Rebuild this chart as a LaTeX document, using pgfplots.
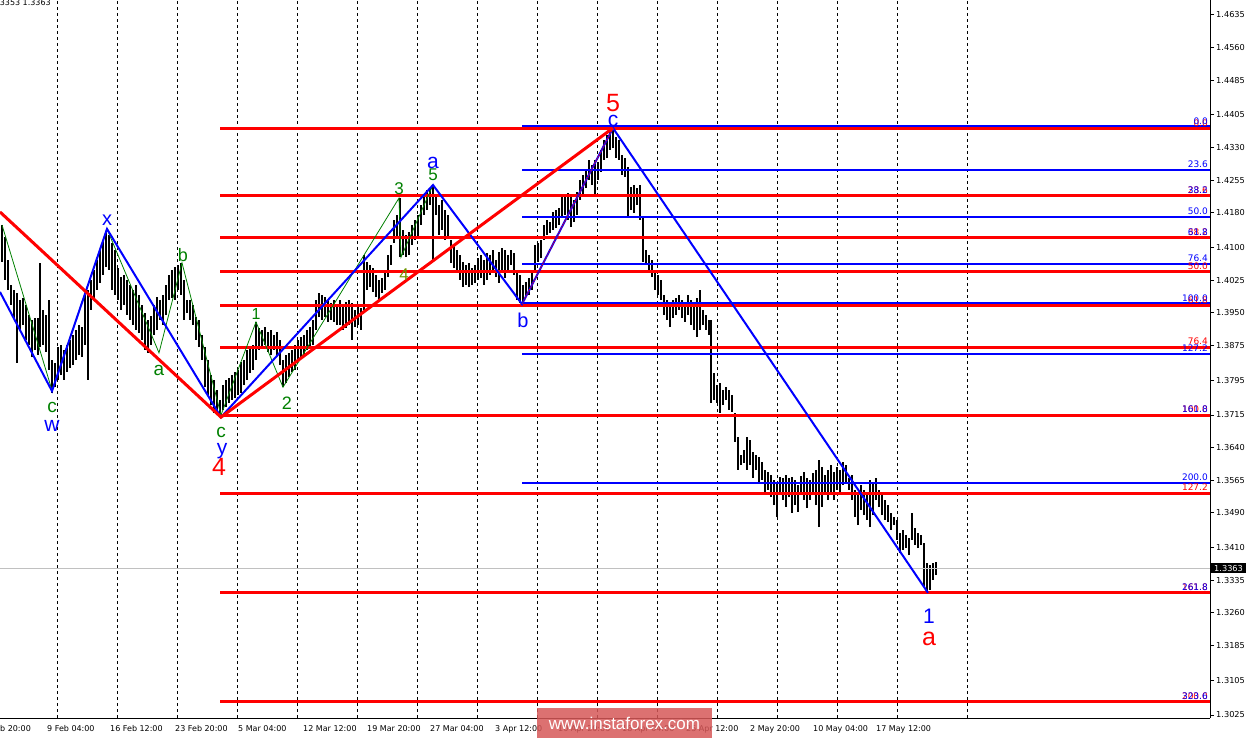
\documentclass[border=0pt]{standalone}
\usepackage{pgfplots}
\pgfplotsset{compat=1.18}
\usepackage{pgfplotstable}
\usepackage{fontspec}
\setmainfont{DejaVu Sans}
\newfontfamily\arial{Liberation Sans}
\definecolor{wgreen}{RGB}{0,128,0}
\definecolor{wgreen4}{RGB}{110,150,0}
\definecolor{wblue}{RGB}{0,0,255}
\definecolor{wred}{RGB}{255,0,0}
\definecolor{wmark}{RGB}{214,88,88}
\definecolor{cur}{RGB}{192,192,192}

\pgfplotstableread{
x hi lo
2 1.4152 1.4067
5 1.4124 1.4026
8 1.4072 1.4003
11 1.4014 1.3968
14 1.4003 1.3938
17 1.3996 1.3835
20 1.3980 1.3911
23 1.3984 1.3922
26 1.3968 1.3888
29 1.3945 1.3876
32 1.3934 1.3848
35 1.3938 1.3865
38 1.3938 1.3853
40 1.4065 1.3871
43 1.3957 1.3876
46 1.3945 1.3860
49 1.3980 1.3819
52 1.3842 1.3766
55 1.3835 1.3779
58 1.3871 1.3796
61 1.3876 1.3807
64 1.3865 1.3796
67 1.3876 1.3814
70 1.3888 1.3823
73 1.3899 1.3830
76 1.3911 1.3842
79 1.3922 1.3853
82 1.3917 1.3848
85 1.3991 1.3876
88 1.4003 1.3796
91 1.4026 1.3957
94 1.4049 1.3980
97 1.4072 1.4003
100 1.4095 1.4019
103 1.4118 1.4037
106 1.4136 1.4055
109 1.4129 1.4049
112 1.4111 1.4003
115 1.4095 1.3991
118 1.4053 1.3980
121 1.4032 1.3957
124 1.4037 1.3968
127 1.4026 1.3945
130 1.4014 1.3934
133 1.4003 1.3922
136 1.4014 1.3911
139 1.3991 1.3904
142 1.3968 1.3888
145 1.3950 1.3865
148 1.3934 1.3858
151 1.3943 1.3876
154 1.3968 1.3899
157 1.3986 1.3911
160 1.3980 1.3934
163 1.3991 1.3922
166 1.4014 1.3945
169 1.4037 1.3980
172 1.4049 1.3984
175 1.4055 1.3980
178 1.4060 1.4003
181 1.4065 1.3991
184 1.4026 1.3934
187 1.3980 1.3950
190 1.3980 1.3934
193 1.3968 1.3922
196 1.3940 1.3888
199 1.3934 1.3871
202 1.3899 1.3842
205 1.3871 1.3779
208 1.3842 1.3761
211 1.3807 1.3738
214 1.3796 1.3720
217 1.3773 1.3715
220 1.3750 1.3710
223 1.3784 1.3727
226 1.3796 1.3733
229 1.3800 1.3743
232 1.3807 1.3750
235 1.3814 1.3754
238 1.3819 1.3761
241 1.3837 1.3766
244 1.3842 1.3784
247 1.3865 1.3796
250 1.3871 1.3812
253 1.3876 1.3819
256 1.3929 1.3842
259 1.3915 1.3865
262 1.3911 1.3869
265 1.3917 1.3876
268 1.3906 1.3860
271 1.3911 1.3853
274 1.3899 1.3865
277 1.3906 1.3853
280 1.3888 1.3830
283 1.3842 1.3779
286 1.3853 1.3789
289 1.3858 1.3802
292 1.3865 1.3814
295 1.3876 1.3819
298 1.3888 1.3842
301 1.3894 1.3846
304 1.3899 1.3853
307 1.3911 1.3865
310 1.3917 1.3871
313 1.3934 1.3876
316 1.3980 1.3911
319 1.3996 1.3940
322 1.3991 1.3934
325 1.3986 1.3940
328 1.3980 1.3929
331 1.3973 1.3934
334 1.3980 1.3929
337 1.3968 1.3922
340 1.3980 1.3922
343 1.3968 1.3911
346 1.3975 1.3915
349 1.3980 1.3922
352 1.3973 1.3888
355 1.3957 1.3917
358 1.3968 1.3922
361 1.3961 1.3911
364 1.4083 1.3957
367 1.4067 1.4003
370 1.4060 1.4009
373 1.4053 1.3998
376 1.4037 1.3986
379 1.4026 1.3980
382 1.4030 1.3996
385 1.4049 1.4003
388 1.4083 1.4032
391 1.4106 1.4060
394 1.4164 1.4111
397 1.4175 1.4124
400 1.4214 1.4078
403 1.4141 1.4083
406 1.4129 1.4078
409 1.4136 1.4083
412 1.4152 1.4106
415 1.4164 1.4118
418 1.4175 1.4122
421 1.4198 1.4152
424 1.4221 1.4175
427 1.4233 1.4187
430 1.4237 1.4198
433 1.4244 1.4072
436 1.4221 1.4175
439 1.4198 1.4129
442 1.4210 1.4141
445 1.4187 1.4118
448 1.4175 1.4124
451 1.4118 1.4065
454 1.4106 1.4053
457 1.4095 1.4049
460 1.4083 1.4026
463 1.4067 1.4009
466 1.4060 1.4014
469 1.4065 1.4009
472 1.4053 1.4014
475 1.4060 1.4019
478 1.4076 1.4026
481 1.4083 1.4030
484 1.4072 1.4014
487 1.4088 1.4026
490 1.4083 1.4037
493 1.4095 1.4042
496 1.4072 1.4032
499 1.4090 1.4019
502 1.4099 1.4049
505 1.4095 1.4030
508 1.4083 1.4044
511 1.4095 1.4060
514 1.4088 1.4037
517 1.4049 1.3980
520 1.4037 1.3973
523 1.4014 1.3970
526 1.4021 1.3986
529 1.4030 1.3991
532 1.4049 1.4003
535 1.4106 1.4049
538 1.4111 1.4067
541 1.4118 1.4076
544 1.4152 1.4118
547 1.4164 1.4129
550 1.4159 1.4134
553 1.4182 1.4141
556 1.4187 1.4145
559 1.4191 1.4152
562 1.4221 1.4168
565 1.4221 1.4175
568 1.4226 1.4164
571 1.4221 1.4147
574 1.4210 1.4159
577 1.4228 1.4175
580 1.4256 1.4210
583 1.4267 1.4221
586 1.4279 1.4237
589 1.4302 1.4256
592 1.4290 1.4244
595 1.4302 1.4221
598 1.4297 1.4256
601 1.4325 1.4274
604 1.4348 1.4302
607 1.4359 1.4306
610 1.4371 1.4325
613 1.4375 1.4329
616 1.4354 1.4306
619 1.4348 1.4302
622 1.4313 1.4267
625 1.4306 1.4262
628 1.4285 1.4170
631 1.4239 1.4187
634 1.4244 1.4180
637 1.4237 1.4198
640 1.4244 1.4164
643 1.4170 1.4067
646 1.4095 1.4060
649 1.4083 1.4044
652 1.4072 1.4032
655 1.4049 1.4003
658 1.4037 1.3991
661 1.4026 1.3980
664 1.3991 1.3945
667 1.3980 1.3934
670 1.3968 1.3917
673 1.3980 1.3938
676 1.3984 1.3945
679 1.3991 1.3957
682 1.3980 1.3938
685 1.3975 1.3929
688 1.3991 1.3945
691 1.3980 1.3922
694 1.3968 1.3911
697 1.3984 1.3894
700 1.4003 1.3911
703 1.3957 1.3922
706 1.3945 1.3911
709 1.3934 1.3899
711 1.3934 1.3743
714 1.3812 1.3750
717 1.3784 1.3743
720 1.3789 1.3720
723 1.3773 1.3738
726 1.3779 1.3750
729 1.3773 1.3727
732 1.3761 1.3722
735 1.3720 1.3653
738 1.3664 1.3589
741 1.3623 1.3600
744 1.3635 1.3605
747 1.3664 1.3589
750 1.3658 1.3600
753 1.3630 1.3570
756 1.3623 1.3589
759 1.3618 1.3559
762 1.3607 1.3566
765 1.3589 1.3538
768 1.3584 1.3543
771 1.3577 1.3526
774 1.3566 1.3508
777 1.3559 1.3480
780 1.3572 1.3531
783 1.3570 1.3520
786 1.3577 1.3503
789 1.3570 1.3526
792 1.3572 1.3490
795 1.3566 1.3508
798 1.3554 1.3492
801 1.3575 1.3531
804 1.3584 1.3520
807 1.3570 1.3501
810 1.3566 1.3520
813 1.3582 1.3531
816 1.3589 1.3508
819 1.3612 1.3457
822 1.3595 1.3503
825 1.3577 1.3531
828 1.3589 1.3520
831 1.3600 1.3536
834 1.3584 1.3520
837 1.3595 1.3543
840 1.3589 1.3536
843 1.3607 1.3554
846 1.3600 1.3559
849 1.3570 1.3543
852 1.3577 1.3520
855 1.3543 1.3480
858 1.3538 1.3462
861 1.3554 1.3497
864 1.3543 1.3485
867 1.3531 1.3474
870 1.3566 1.3457
873 1.3559 1.3485
876 1.3570 1.3520
879 1.3543 1.3503
882 1.3531 1.3485
885 1.3520 1.3474
888 1.3508 1.3469
891 1.3490 1.3451
894 1.3480 1.3462
897 1.3474 1.3428
900 1.3444 1.3398
903 1.3451 1.3405
906 1.3439 1.3409
909 1.3432 1.3393
912 1.3490 1.3428
915 1.3455 1.3416
918 1.3444 1.3409
921 1.3439 1.3416
924 1.3421 1.3319
927 1.3375 1.3306
930 1.3370 1.3313
933 1.3375 1.3336
936 1.3377 1.3347
}\bars

\begin{document}
\begin{tikzpicture}
\useasboundingbox (0pt,-22pt) rectangle (1250pt,718pt);
\begin{axis}[
  scale only axis, width=1210pt, height=718pt,
  at={(0pt,0pt)}, anchor=south west,
  xmin=0, xmax=1210, ymin=1.30181, ymax=1.46695,
  axis x line*=bottom, axis y line*=right,
  axis line style={black, line width=1pt},
  clip mode=individual,
  tick align=outside,
  major tick length=4pt,
  ytick={1.3025,1.3105,1.3185,1.3260,1.3335,1.3410,1.3490,1.3565,1.3640,1.3715,1.3795,1.3875,1.3950,1.4025,1.4100,1.4180,1.4255,1.4330,1.4405,1.4485,1.4560,1.4635},
  yticklabel style={font=\fontsize{8.2}{9}\selectfont, inner sep=2pt,
    /pgf/number format/fixed, /pgf/number format/fixed zerofill,
    /pgf/number format/precision=4, /pgf/number format/assume math mode=true},
  ytick style={black, line width=1pt},
  xtick={0,47,110,175,238,303,367,430,495,558,622,686,750,813,876},
  xticklabels={{\makebox[0pt][r]{1 Fe}b 20:00},{9 Feb 04:00},{16 Feb 12:00},{23 Feb 20:00},{5 Mar 04:00},{12 Mar 12:00},{19 Mar 20:00},{27 Mar 04:00},{3 Apr 12:00},{10 Apr 20:00},{18 Apr 04:00},{25 Apr 12:00},{2 May 20:00},{10 May 04:00},{17 May 12:00}},
  xticklabel style={anchor=north west, font=\fontsize{8}{9}\selectfont, inner sep=0pt, yshift=-3pt},
  xtick style={draw=none},
  extra x ticks={57,117,177,237,297,357,417,477,537,597,657,717,777,837,897,967},
  extra x tick labels={},
  extra x tick style={grid=major, major grid style={black, line width=0.8pt, dash pattern=on 3pt off 3pt}},
]
% OHLC bars (high/low)
\addplot[draw=none, mark=none, forget plot,
  error bars/.cd, y dir=plus, y explicit, error mark=none,
  error bar style={draw=black, line width=1.1pt}]
  table[x=x, y=lo, y error plus expr=\thisrow{hi}-\thisrow{lo}] {\bars};
% current price line
\addplot[cur, line width=1pt] coordinates {(0,1.3363) (1210,1.3363)};
% blue Fibonacci levels (those not hidden by red ones)
\pgfplotsinvokeforeach{1.4379,1.42787,1.4171,1.40633,1.3972,1.3856,1.3559}{
  \addplot[wblue, line width=2pt] coordinates {(522,#1) (1210,#1)};
}
% red Fibonacci levels
\pgfplotsinvokeforeach{1.4373,1.42192,1.41229,1.4045,1.39671,1.38708,1.3715,1.35355,1.33071,1.3055}{
  \addplot[wred, line width=3pt] coordinates {(220,#1) (1210,#1)};
}
% green sub-waves
\addplot[wgreen, line width=0.8pt] coordinates {(2,1.4152) (52,1.3772) (107,1.4143) (159,1.3858) (182,1.4065) (221,1.3715) (256,1.3929) (283,1.3779) (399,1.4214) (401,1.4078) (433,1.4244)};
% blue waves
\addplot[wblue, line width=2pt] coordinates {(0,1.3998) (52,1.3770) (107,1.4143) (221,1.3710) (433,1.4244) (522,1.3970) (613,1.4375) (928,1.3306)};
% red waves
\addplot[wred, line width=3pt] coordinates {(0,1.4182) (221,1.3710) (613,1.4375)};
\addplot[wred, line width=0.8pt, dash pattern=on 1pt off 1pt] coordinates {(522,1.3970) (613,1.4375)};

% Fibonacci labels
\begin{scope}[every node/.style={anchor=south east, inner sep=0pt, yshift=2pt, font=\fontsize{9}{10}\selectfont}]
\node[text=wred] at (axis cs:1208,1.4373) {0.0};
\node[text=wred] at (axis cs:1208,1.42192) {23.6};
\node[text=wred] at (axis cs:1208,1.41229) {38.2};
\node[text=wred] at (axis cs:1208,1.4045) {50.0};
\node[text=wred] at (axis cs:1208,1.39671) {61.8};
\node[text=wred] at (axis cs:1208,1.38708) {76.4};
\node[text=wred] at (axis cs:1208,1.3715) {100.0};
\node[text=wred] at (axis cs:1208,1.35355) {127.2};
\node[text=wred] at (axis cs:1208,1.33071) {161.8};
\node[text=wred] at (axis cs:1208,1.3055) {200.0};
\node[text=wblue] at (axis cs:1208,1.4377) {0.0};
\node[text=wblue] at (axis cs:1208,1.42787) {23.6};
\node[text=wblue] at (axis cs:1208,1.42191) {38.2};
\node[text=wblue] at (axis cs:1208,1.4171) {50.0};
\node[text=wblue] at (axis cs:1208,1.41229) {61.8};
\node[text=wblue] at (axis cs:1208,1.40633) {76.4};
\node[text=wblue] at (axis cs:1208,1.3970) {100.0};
\node[text=wblue] at (axis cs:1208,1.3856) {127.2};
\node[text=wblue] at (axis cs:1208,1.37149) {161.8};
\node[text=wblue] at (axis cs:1208,1.3559) {200.0};
\node[text=wblue] at (axis cs:1208,1.33069) {261.8};
\node[text=wblue] at (axis cs:1208,1.3055) {323.6};
\end{scope}

% wave labels
\node[text=wgreen, font=\arial\fontsize{19}{19}\selectfont] at (axis cs:52,1.3733) {c};
\node[text=wblue, font=\arial\fontsize{21}{21}\selectfont] at (axis cs:52,1.3690) {w};
\node[text=wblue, font=\arial\fontsize{20}{20}\selectfont] at (axis cs:107,1.4164) {x};
\node[text=wgreen, font=\arial\fontsize{19}{19}\selectfont] at (axis cs:159,1.3818) {a};
\node[text=wgreen, font=\arial\fontsize{18}{18}\selectfont] at (axis cs:183,1.4083) {b};
\node[text=wgreen, font=\arial\fontsize{19}{19}\selectfont] at (axis cs:221,1.3674) {c};
\node[text=wblue, font=\arial\fontsize{21}{21}\selectfont] at (axis cs:222,1.3632) {y};
\node[text=wred, font=\arial\fontsize{25}{25}\selectfont] at (axis cs:219,1.3595) {4};
\node[text=wgreen, font=\arial\fontsize{16}{16}\selectfont] at (axis cs:256,1.3947) {1};
\node[text=wgreen, font=\arial\fontsize{18}{18}\selectfont] at (axis cs:287,1.3743) {2};
\node[text=wgreen, font=\arial\fontsize{17}{17}\selectfont] at (axis cs:399,1.4235) {3};
\node[text=wgreen4, font=\arial\fontsize{17}{17}\selectfont] at (axis cs:404,1.4037) {4};
\node[text=wgreen, font=\arial\fontsize{17}{17}\selectfont] at (axis cs:433,1.4267) {5};
\node[text=wblue, font=\arial\fontsize{21}{21}\selectfont] at (axis cs:433,1.4295) {a};
\node[text=wblue, font=\arial\fontsize{20}{20}\selectfont] at (axis cs:523,1.3933) {b};
\node[text=wblue, font=\arial\fontsize{21}{21}\selectfont] at (axis cs:613,1.4391) {c};
\node[text=wred, font=\arial\fontsize{25}{25}\selectfont] at (axis cs:613,1.4433) {5};
\node[text=wblue, font=\arial\fontsize{21}{21}\selectfont] at (axis cs:929,1.3253) {1};
\node[text=wred, font=\arial\fontsize{25}{25}\selectfont] at (axis cs:929,1.3200) {a};

% current price box on the scale
\node[fill=black, text=white, anchor=west, inner xsep=3pt, inner ysep=2pt, font=\fontsize{8.2}{9}\selectfont] at (axis cs:1211,1.3363) {1.3363};
% header remnant
\node[anchor=base west, inner sep=0pt, font=\fontsize{8}{9}\selectfont] at (axis cs:-8,1.4656) {1.3353 1.3363};
% watermark
\node[fill=wmark, fill opacity=0.85, text opacity=1, text=white, minimum width=175pt, minimum height=30pt, inner sep=0pt, font=\arial\fontsize{17}{17}\selectfont] at (axis cs:624.5,1.30066) {www.instaforex.com};
\end{axis}
\end{tikzpicture}
\end{document}
